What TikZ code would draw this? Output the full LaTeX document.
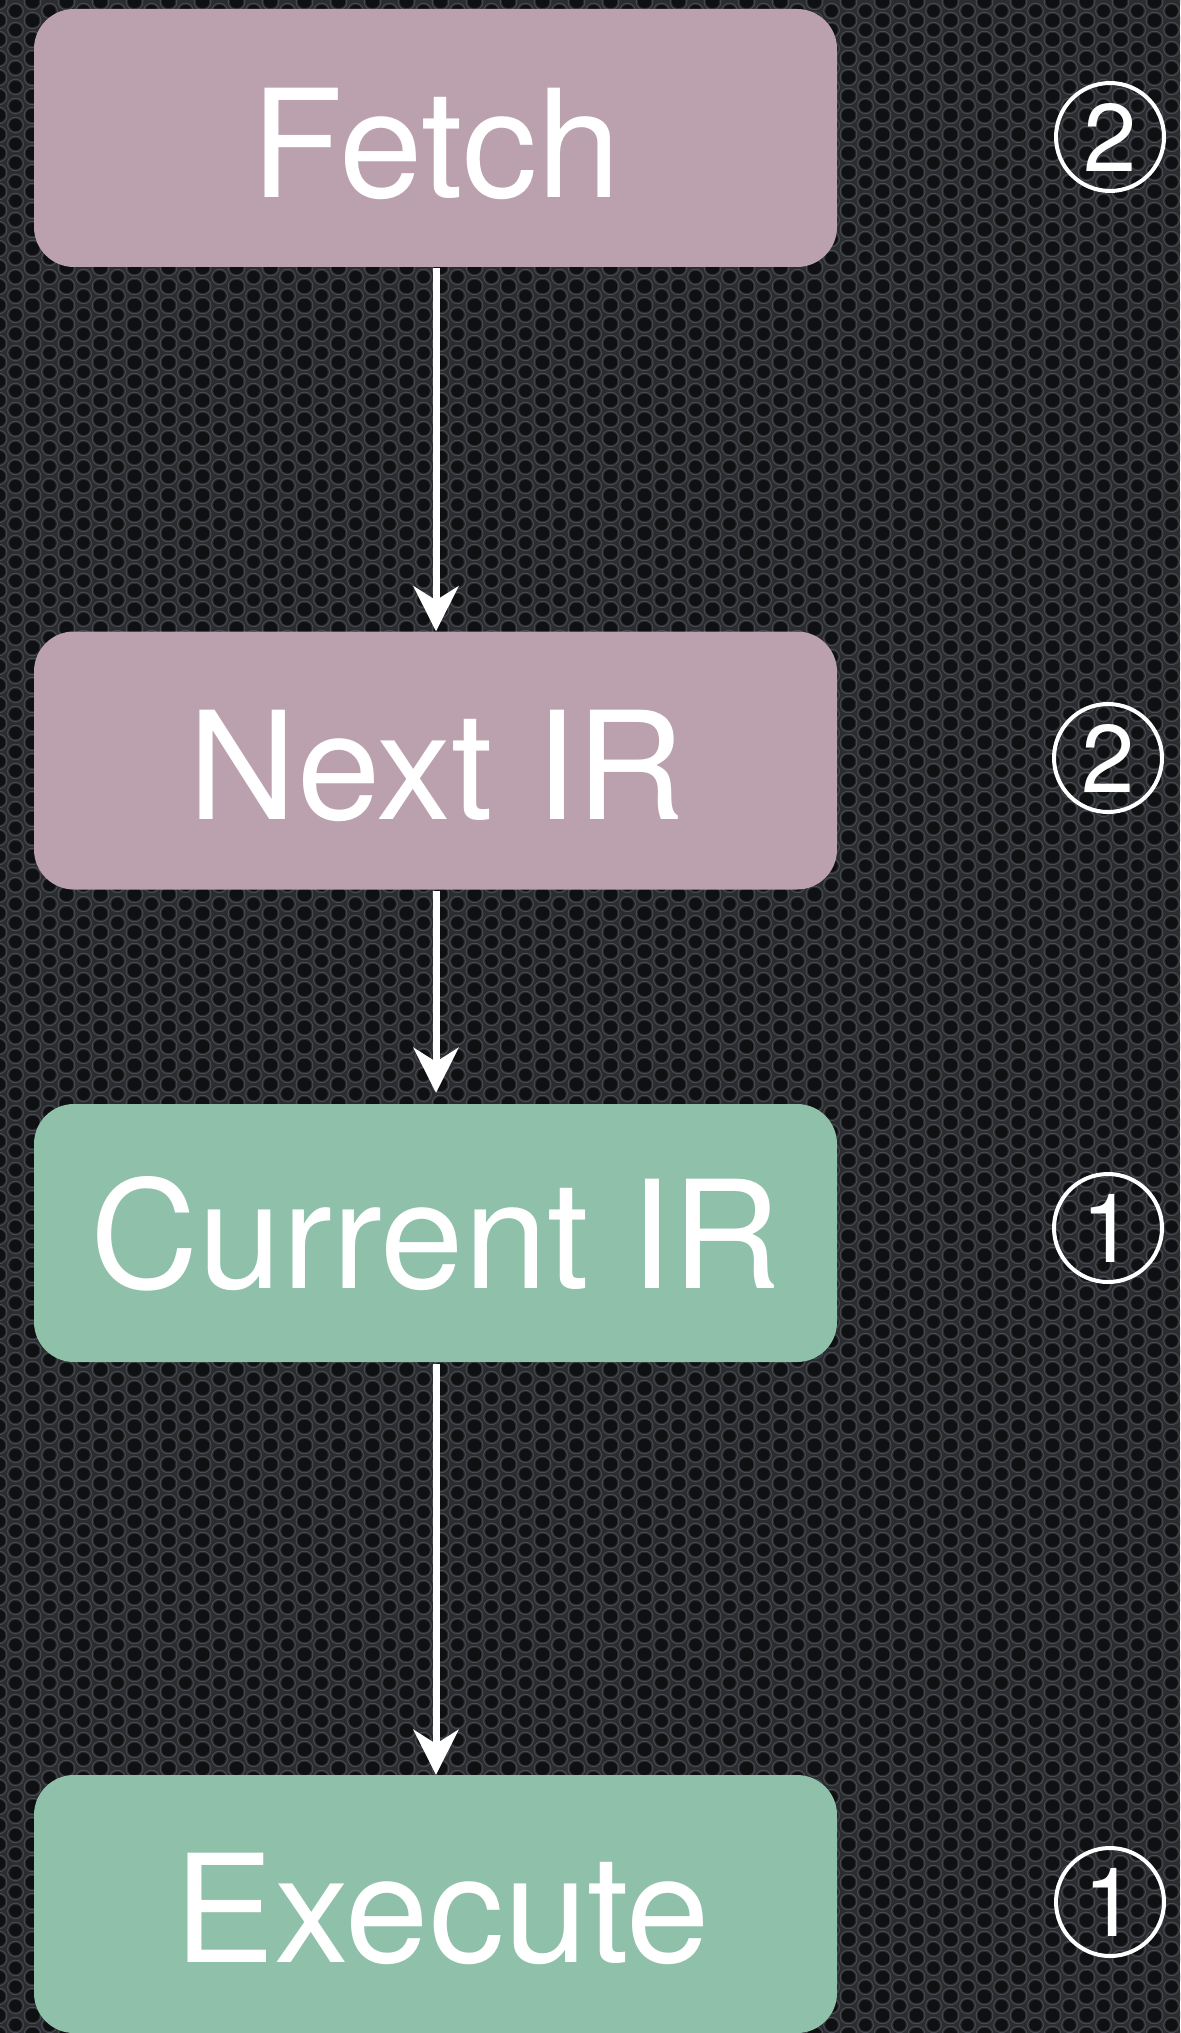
\documentclass[tikz,border=0pt]{standalone}
\usepackage{fontspec}
\setmainfont{TeX Gyre Heros}
\usetikzlibrary{arrows.meta,patterns}
\definecolor{bgc}{HTML}{2A2C30}
\definecolor{rimc}{HTML}{4A4D53}
\definecolor{holec}{HTML}{0F1012}
\definecolor{pinkbox}{HTML}{BBA1AD}
\definecolor{greenbox}{HTML}{8EC0AA}
\pgfdeclarepatterninherentlycolored{holes}{\pgfpointorigin}{\pgfpoint{34pt}{19pt}}{\pgfpoint{34pt}{19pt}}{%
  \pgfsetfillcolor{rimc}%
  \pgfpathcircle{\pgfpoint{0pt}{0pt}}{8.6pt}%
  \pgfpathcircle{\pgfpoint{34pt}{0pt}}{8.6pt}%
  \pgfpathcircle{\pgfpoint{0pt}{19pt}}{8.6pt}%
  \pgfpathcircle{\pgfpoint{34pt}{19pt}}{8.6pt}%
  \pgfpathcircle{\pgfpoint{17pt}{9.5pt}}{8.6pt}%
  \pgfusepath{fill}%
  \pgfsetfillcolor{bgc}%
  \pgfpathcircle{\pgfpoint{0pt}{0pt}}{7.6pt}%
  \pgfpathcircle{\pgfpoint{34pt}{0pt}}{7.6pt}%
  \pgfpathcircle{\pgfpoint{0pt}{19pt}}{7.6pt}%
  \pgfpathcircle{\pgfpoint{34pt}{19pt}}{7.6pt}%
  \pgfpathcircle{\pgfpoint{17pt}{9.5pt}}{7.6pt}%
  \pgfusepath{fill}%
  \pgfsetfillcolor{holec}%
  \pgfpathcircle{\pgfpoint{0pt}{0pt}}{6.4pt}%
  \pgfpathcircle{\pgfpoint{34pt}{0pt}}{6.4pt}%
  \pgfpathcircle{\pgfpoint{0pt}{19pt}}{6.4pt}%
  \pgfpathcircle{\pgfpoint{34pt}{19pt}}{6.4pt}%
  \pgfpathcircle{\pgfpoint{17pt}{9.5pt}}{6.4pt}%
  \pgfusepath{fill}%
}
\tikzset{
  stagebox/.style={rectangle, rounded corners=40pt, minimum width=803pt, minimum height=258pt,
    inner sep=0pt},
  stagetext/.style={inner sep=0pt, text=white, font=\fontsize{150}{160}\selectfont},
  numcirc/.style={circle, draw=white, line width=4pt, minimum size=108pt, inner sep=0pt,
    text=white, font=\fontsize{96}{100}\selectfont},
  flow/.style={draw=white, line width=7pt, -{Stealth[length=45pt,width=45pt,inset=14pt]}}
}
\begin{document}
\begin{tikzpicture}[x=1pt,y=-1pt]
\useasboundingbox (0,0) rectangle (1180,2033);
\fill[bgc] (0,0) rectangle (1180,2033);
\fill[pattern=holes] (0,0) rectangle (1180,2033);
% boxes
\node[stagebox, fill=pinkbox] (fetchbox) at (435.5,138) {};
\node[stagebox, fill=pinkbox] (nextbox) at (435.5,760.5) {};
\node[stagebox, fill=greenbox] (curbox) at (435.5,1233) {};
\node[stagebox, fill=greenbox] (execbox) at (435.5,1904) {};
% texts
\node[stagetext] (fetch) at (436,143.5) {Fetch};
\node[stagetext] (next) at (437,765.5) {Next IR};
\node[stagetext] (cur) at (435.5,1234) {Current IR};
\node[stagetext] (exec) at (442.5,1909) {Execute};
% numbers
\node[numcirc] (n1) at (1110,137) {2};
\node[numcirc] (n2) at (1108,758) {2};
\node[numcirc] (n3) at (1108,1228) {1};
\node[numcirc] (n4) at (1110,1902) {1};
% arrows
\draw[flow] ([xshift=0.5pt,yshift=-1pt]fetchbox.south) -- ([xshift=0.5pt]nextbox.north);
\draw[flow] ([xshift=0.5pt,yshift=-1pt]nextbox.south) -- ([xshift=0.5pt,yshift=11pt]curbox.north);
\draw[flow] ([xshift=0.5pt,yshift=-2pt]curbox.south) -- ([xshift=0.5pt]execbox.north);
\end{tikzpicture}
\end{document}
